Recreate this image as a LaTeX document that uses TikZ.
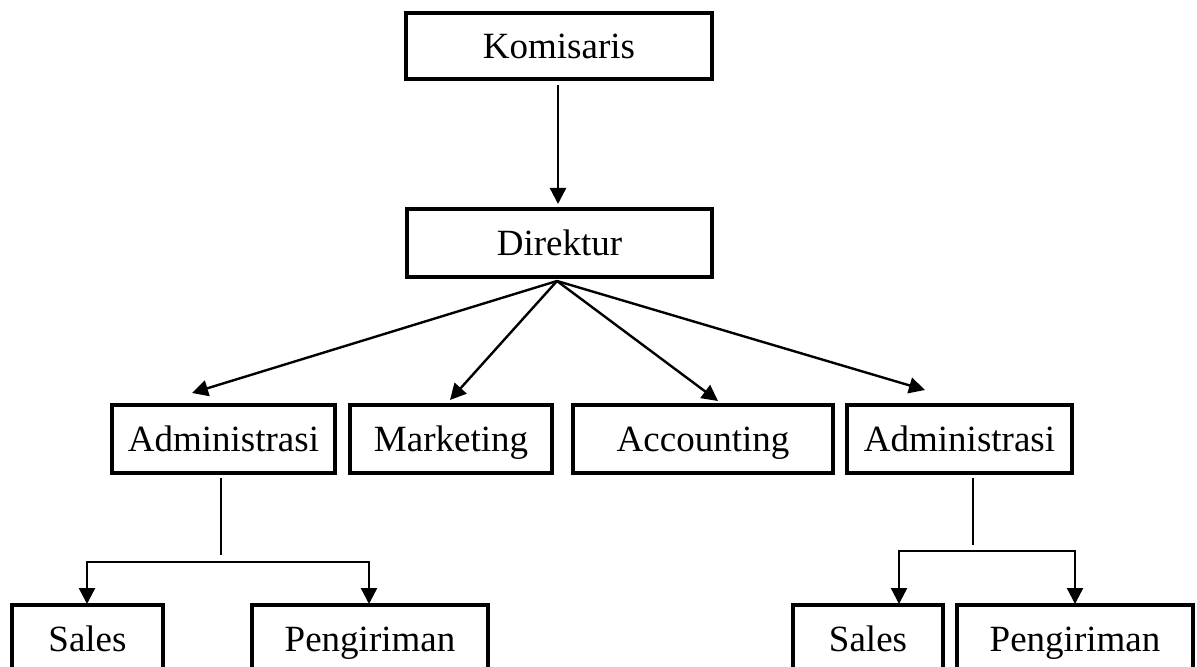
\documentclass[tikz,border=0pt]{standalone}
\usepackage{fontspec}
\setmainfont{Liberation Serif}
\usetikzlibrary{arrows.meta}
\begin{document}
\begin{tikzpicture}[x=0.5pt,y=-0.5pt,
  box/.style={draw, line width=1.7pt, inner sep=0pt, minimum height=34pt,
    text height=12.2pt, text depth=0pt, font=\fontsize{18.5}{20}\selectfont},
  conn/.style={line width=1.2pt},
  arr/.style={conn, -{Triangle[length=8pt,width=8pt]}},
  arr2/.style={conn, {Triangle[length=8pt,width=8pt]}-{Triangle[length=8pt,width=8pt]}}]
\useasboundingbox (0,0) rectangle (1197,667);
\clip (0,0) rectangle (1197,667);
\node[box, minimum width=153pt, minimum height=33pt] (kom) at (559,46) {Komisaris};
\node[box, minimum width=152.5pt] (dir) at (559.5,243) {Direktur};
\node[box, minimum width=111.5pt] (adm1) at (223.5,439) {Administrasi};
\node[box, minimum width=101pt] (mkt) at (451,439) {Marketing};
\node[box, minimum width=130pt] (acc) at (703,439) {Accounting};
\node[box, minimum width=112.5pt] (adm2) at (959.5,439) {Administrasi};
\node[box, minimum width=75.5pt] (sal1) at (87.5,639) {Sales};
\node[box, minimum width=118pt] (peng1) at (370,639) {Pengiriman};
\node[box, minimum width=75pt] (sal2) at (868,639) {Sales};
\node[box, minimum width=118pt] (peng2) at (1075,639) {Pengiriman};
% Komisaris -> Direktur
\coordinate (k1) at (558,85);
\coordinate (k2) at (558,204);
\draw[arr] (k1) -- (k2);
% fan from Direktur
\coordinate (fan) at (557,281);
\coordinate (t1) at (192,393);
\coordinate (t2) at (450,400);
\coordinate (t3) at (718,401);
\coordinate (t4) at (925,390);
\draw[arr] (fan) -- (t1);
\draw[arr] (fan) -- (t2);
\draw[arr] (fan) -- (t3);
\draw[arr] (fan) -- (t4);
% left branch
\coordinate (a1) at (221,478);
\coordinate (a2) at (221,555);
\draw[conn] (a1) -- (a2);
\coordinate (l1) at (87,604);
\coordinate (l2) at (369,604);
\draw[arr2] (l1) -- (87,562) -- (369,562) -- (l2);
% right branch
\coordinate (b1) at (973,478);
\coordinate (b2) at (973,545);
\draw[conn] (b1) -- (b2);
\coordinate (r1) at (899,604);
\coordinate (r2) at (1075,604);
\draw[arr2] (r1) -- (899,551) -- (1075,551) -- (r2);
\end{tikzpicture}
\end{document}
